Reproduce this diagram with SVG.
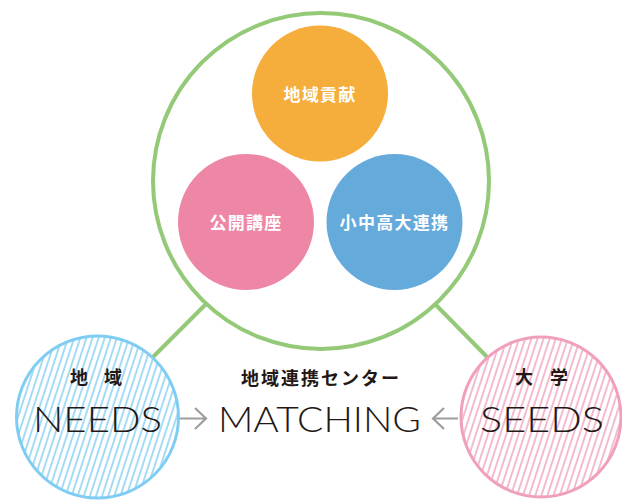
<svg xmlns="http://www.w3.org/2000/svg" width="622" height="500" viewBox="0 0 622 500">
<style>
.jp{font-family:"Noto Sans CJK JP","Noto Sans CJK SC",sans-serif;font-weight:bold;text-anchor:middle}
.w{fill:#ffffff;font-size:17px}
.k{fill:#231815;font-size:18px}
.en{font-family:Lato,"Liberation Sans",sans-serif;font-weight:300;fill:#231815;font-size:35px;text-anchor:middle}
.arrow{fill:none;stroke:#9d9d9d;stroke-width:2.2}
</style>
<defs>
<pattern id="hb" width="5.8" height="10" patternUnits="userSpaceOnUse" patternTransform="rotate(18)">
<line x1="1" y1="0" x2="1" y2="10" stroke="#7fcdf2" stroke-width="1.4"/>
</pattern>
<pattern id="hp" width="5.8" height="10" patternUnits="userSpaceOnUse" patternTransform="rotate(18)">
<line x1="1" y1="0" x2="1" y2="10" stroke="#f09fbd" stroke-width="1.4"/>
</pattern>
</defs>
<rect width="622" height="500" fill="#ffffff"/>
<g id="connectors">
<line x1="207" y1="303" x2="150" y2="360" stroke="#93c977" stroke-width="4"/>
<line x1="434" y1="303" x2="490" y2="360" stroke="#93c977" stroke-width="4"/>
<path class="arrow" d="M180 418.5H206M195 408L206 418.5L195 429"/>
<path class="arrow" d="M458 418.5H433M444 408L433 418.5L444 429"/>
</g>
<g id="center">
<circle cx="321" cy="181" r="168" fill="#ffffff" stroke="#93c977" stroke-width="4"/>
</g>
<g id="chiiki-kouken">
<circle cx="320" cy="93.5" r="68" fill="#f5ad3c"/>
<text class="jp w" x="320" y="101" letter-spacing="1.3">地域貢献</text>
</g>
<g id="koukai-kouza">
<circle cx="246" cy="222" r="68" fill="#ee87a6"/>
<text class="jp w" x="246" y="229" letter-spacing="1.3">公開講座</text>
</g>
<g id="shochukodai">
<circle cx="394.5" cy="222" r="68" fill="#64aadb"/>
<text class="jp w" x="394.5" y="229" letter-spacing="1.3">小中高大連携</text>
</g>
<g id="needs">
<circle cx="97.5" cy="417" r="81" fill="#ffffff"/>
<circle cx="97.5" cy="417" r="81" fill="url(#hb)" stroke="#7fcdf2" stroke-width="3"/>
<text class="jp k" y="384"><tspan x="79">地</tspan><tspan x="113">域</tspan></text>
<text class="en" x="97.5" y="432" textLength="129" lengthAdjust="spacingAndGlyphs">NEEDS</text>
</g>
<g id="seeds">
<circle cx="541" cy="417" r="80" fill="#ffffff"/>
<circle cx="541" cy="417" r="80" fill="url(#hp)" stroke="#f09fbd" stroke-width="3"/>
<text class="jp k" y="384"><tspan x="524">大</tspan><tspan x="559">学</tspan></text>
<text class="en" x="542" y="432" textLength="124" lengthAdjust="spacingAndGlyphs">SEEDS</text>
</g>
<g id="matching">
<text class="jp k" x="321" y="385" letter-spacing="2">地域連携センター</text>
<text class="en" x="319.5" y="432" textLength="203" lengthAdjust="spacingAndGlyphs">MATCHING</text>
</g>
</svg>
